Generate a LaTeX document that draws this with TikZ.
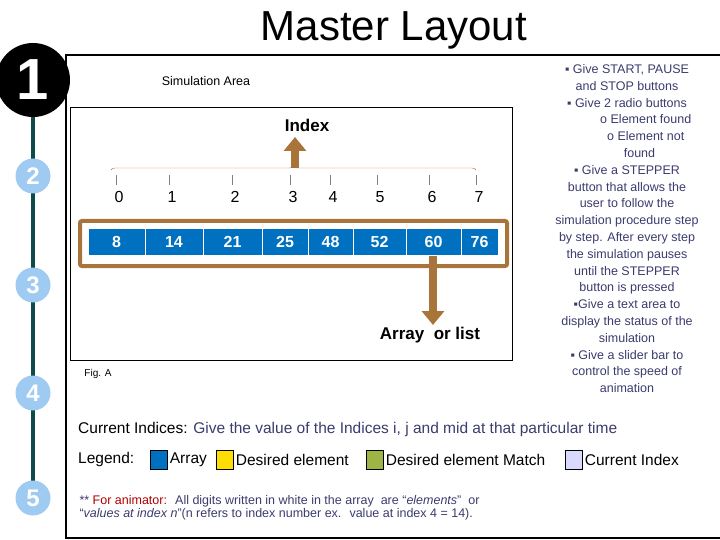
\documentclass[tikz,border=0pt]{standalone}
\usepackage{fontspec}
\setmainfont{Liberation Sans}
\usetikzlibrary{arrows.meta,decorations.pathreplacing}
\definecolor{cellblue}{HTML}{0070C0}
\definecolor{arrbrown}{HTML}{A8743A}
\definecolor{notetext}{HTML}{3B3B6E}
\definecolor{teal}{HTML}{0E4A4A}
\definecolor{stepblue}{HTML}{9FCBF3}
\begin{document}
\begin{tikzpicture}[x=1pt, y=-1pt,
  cell/.style={fill=cellblue, draw=white, line width=1pt, text=white, font=\fontsize{16}{16}\selectfont\bfseries, inner sep=0pt},
  stepnum/.style={circle, fill=stepblue, text=white, minimum size=35pt, inner sep=0pt, font=\fontsize{24}{24}\selectfont\bfseries},
  fatarrow/.style={arrbrown, line width=8pt, -{Triangle[width=22pt,length=14pt]}},
  legendbox/.style={draw=black, minimum width=17pt, minimum height=19pt, inner sep=0pt},
  legendtext/.style={anchor=west, inner sep=2pt, font=\fontsize{15.5}{17}\selectfont}]
\useasboundingbox (0,0) rectangle (720,540);
% frames
\draw[line width=2pt] (720,55) -- (66,55) -- (66,538) -- (720,538);
\draw[line width=1pt] (70,108) rectangle (512,360);
\node[font=\fontsize{42}{42}\selectfont] (title) at (394,30) {Master Layout};
% timeline
\draw[teal, line width=4pt] (33,100) -- (33,500);
\node[circle, fill=black, text=white, minimum size=74pt, inner sep=0pt, font=\fontsize{58}{58}\selectfont\bfseries] (st1) at (33,80) {1};
\foreach \n/\yy in {2/176, 3/285, 4/393, 5/498}
  \node[stepnum] (st\n) at (33,\yy) {\n};
% simulation area
\node[font=\fontsize{12.5}{14}\selectfont] (simarea) at (206,81) {Simulation Area};
\node[font=\fontsize{17}{17}\selectfont\bfseries] (index) at (307,125) {Index};
\coordinate (braceL) at (111,170);
\coordinate (braceR) at (476,170);
\draw[arrbrown, decorate, decoration={brace, amplitude=4pt, mirror}] (braceR) -- (braceL);
\foreach \x/\i in {116/0, 169/1, 232/2, 290/3, 330/4, 377/5, 429/6, 476/7} {
  \draw[gray] (\x,175) -- (\x,185);
  \node[font=\fontsize{16}{16}\selectfont] (idx\i) at (\x+3,197) {\i};
}
\coordinate (upfoot) at (295,168);
\coordinate (uphead) at (295,137);
\draw[fatarrow] (upfoot) -- (uphead);
% array
\draw[arrbrown, line width=4pt, rounded corners=2pt] (80,221) rectangle (507,266);
\foreach \a/\b/\v/\k in {88/145/8/0, 145/203/14/1, 203/262/21/2, 262/308/25/3, 308/353/48/4, 353/406/52/5, 406/461/60/6, 461/498/76/7}
  \node[cell, minimum width=\b-\a, minimum height=27pt] (cell\k) at ({(\a+\b)/2},242) {\v};
\coordinate (downhead) at (433,325);
\draw[fatarrow] (cell6.south -| downhead) -- (downhead);
\node[font=\fontsize{17}{17}\selectfont\bfseries] (arrlabel) at (430,335) {Array \ or list};
\node[font=\fontsize{10}{11}\selectfont] (figa) at (98,374) {Fig. A};
% notes
\node[notetext, align=center, anchor=north, font=\fontsize{12.5}{16.8}\selectfont] (notes) at (627,61) {
  ▪ Give START, PAUSE\\ and STOP buttons\\ ▪ Give 2 radio buttons\\
  \hspace*{3em}o Element found\\ \hspace*{3em}o Element not\\ \hspace*{2em}found\\
  ▪ Give a STEPPER\\ button that allows the\\ user to follow the\\ simulation procedure step\\
  by step. After every step\\ the simulation pauses\\ until the STEPPER\\ button is pressed\\
  ▪Give a text area to\\ display the status of the\\ simulation\\ ▪ Give a slider bar to\\
  control the speed of\\ animation};
% bottom
\node[legendtext] (cur) at (76,429) {Current Indices: \textcolor{notetext}{Give the value of the Indices i, j and mid at that particular time}};
\node[legendtext] (legend) at (76,459) {Legend:};
\node[legendbox, fill=cellblue] (lgA) at (159,460) {};
\node[legendtext] (lgAt) at (lgA.east) {Array};
\node[legendbox, fill=yellow!80!orange] (lgB) at (225,460) {};
\node[legendtext] (lgBt) at (lgB.east) {Desired element};
\node[legendbox, fill=olive!70!green!70] (lgC) at (375,460) {};
\node[legendtext] (lgCt) at (lgC.east) {Desired element Match};
\node[legendbox, fill=blue!15] (lgD) at (574,460) {};
\node[legendtext] (lgDt) at (lgD.east) {Current Index};
\node[anchor=west, align=left, text=notetext, font=\fontsize{12.5}{13.5}\selectfont] (animnote) at (76,508)
  {** \textcolor{red!70!black}{For animator:} \ All digits written in white in the array \ are ``\textit{elements}'' \ or\\
   ``\textit{values at index n}''(n refers to index number ex. \ value at index 4 = 14).};
\end{tikzpicture}
\end{document}
